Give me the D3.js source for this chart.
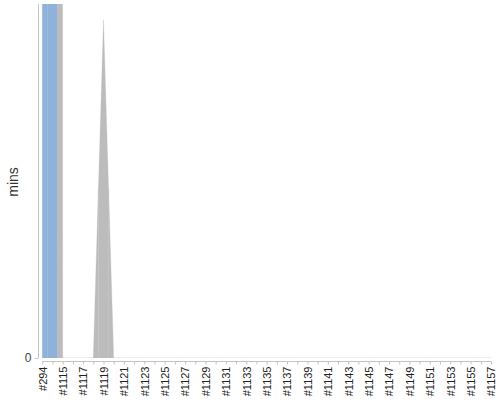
<!DOCTYPE html>
<html>
<head>
<meta charset="utf-8">
<script src="https://cdn.jsdelivr.net/npm/d3@7/dist/d3.min.js"></script>
<style>
  html, body { margin: 0; padding: 0; background: #fff; }
  svg { display: block; }
  text { font-family: "Liberation Sans", Arial, sans-serif; }
</style>
</head>
<body>
<svg id="chart" width="500" height="400"></svg>
<script>
// Build labels (categories)
const builds = ["#294", "#1114", "#1115", "#1116", "#1117", "#1118", "#1119", "#1120",
  "#1121", "#1122", "#1123", "#1124", "#1125", "#1126", "#1127", "#1128", "#1129",
  "#1130", "#1131", "#1132", "#1133", "#1134", "#1135", "#1136", "#1137", "#1138",
  "#1139", "#1140", "#1141", "#1142", "#1143", "#1144", "#1145", "#1146", "#1147",
  "#1148", "#1149", "#1150", "#1151", "#1152", "#1153", "#1154", "#1155", "#1156", "#1157"];
// Build duration (mins)
const durations = [2400, 2400, 0, 0, 0, 0, 21, 0,
  0, 0, 0, 0, 0, 0, 0, 0, 0,
  0, 0, 0, 0, 0, 0, 0, 0, 0,
  0, 0, 0, 0, 0, 0, 0, 0, 0,
  0, 0, 0, 0, 0, 0, 0, 0, 0, 0];
// Build result
const results = ["SUCCESS", "SUCCESS", "ABORTED", "ABORTED", "ABORTED", "ABORTED", "ABORTED", "ABORTED",
  "ABORTED", "ABORTED", "ABORTED", "ABORTED", "ABORTED", "ABORTED", "ABORTED", "ABORTED", "ABORTED",
  "ABORTED", "ABORTED", "ABORTED", "ABORTED", "ABORTED", "ABORTED", "ABORTED", "ABORTED", "ABORTED",
  "ABORTED", "ABORTED", "ABORTED", "ABORTED", "ABORTED", "ABORTED", "ABORTED", "ABORTED", "ABORTED",
  "ABORTED", "ABORTED", "ABORTED", "ABORTED", "ABORTED", "ABORTED", "ABORTED", "ABORTED", "ABORTED", "ABORTED"];
const yTicks = [0];
const yLabel = "mins";
const yMax = 22;

const resultColor = { SUCCESS: "#8EB2D9", ABORTED: "#BCBCBC", FAILURE: "#F25454" };

const svg = d3.select("#chart");
const plot = { left: 41, right: 493, top: 4, bottom: 358 };

const x = d3.scalePoint().domain(builds).range([42.3, 491]);
const y = d3.scaleLinear().domain([0, yMax]).range([plot.bottom, plot.top]);

svg.append("defs").append("clipPath").attr("id", "clip")
  .append("rect")
  .attr("x", plot.left).attr("y", plot.top)
  .attr("width", plot.right - plot.left).attr("height", plot.bottom - plot.top);

// Stacked-area style: each build fills from half-way to its previous neighbour to half-way to its next
const n = builds.length;
const polys = builds.map((b, i) => {
  const xi = x(b), vi = durations[i];
  const pts = [];
  if (i > 0) {
    const xl = (x(builds[i - 1]) + xi) / 2;
    const vl = (durations[i - 1] + vi) / 2;
    pts.push([xl, y(0)], [xl, y(vl)]);
  } else {
    pts.push([xi, y(0)]);
  }
  pts.push([xi, y(vi)]);
  if (i < n - 1) {
    const xr = (xi + x(builds[i + 1])) / 2;
    const vr = (vi + durations[i + 1]) / 2;
    pts.push([xr, y(vr)], [xr, y(0)]);
  } else {
    pts.push([xi, y(0)]);
  }
  return { pts, color: resultColor[results[i]] };
});

svg.append("g").attr("clip-path", "url(#clip)")
  .selectAll("path").data(polys).join("path")
  .attr("d", d => "M" + d.pts.map(p => p.join(",")).join("L") + "Z")
  .attr("fill", d => d.color)
  .attr("stroke", d => d.color)
  .attr("stroke-width", 0.3);

// Y axis
const yAxis = d3.axisLeft(y).tickValues(yTicks).tickSize(4).tickPadding(3).tickFormat(d3.format("d"));
const gy = svg.append("g").attr("transform", "translate(38.5,0)").call(yAxis);
gy.select(".domain").attr("d", `M0,${plot.top}V${plot.bottom}`).attr("stroke", "#c4c4c4");
gy.selectAll(".tick line").attr("stroke", "#c4c4c4");
gy.selectAll(".tick text").attr("fill", "#444").style("font-size", "12px")
  .style("font-family", "'Liberation Sans', Arial, sans-serif");

// X axis
const xAxis = d3.axisBottom(x).tickSize(3).tickPadding(2)
  .tickFormat((d, i) => (i % 2 === 0 ? d : ""));
const gx = svg.append("g").attr("transform", "translate(0,361.5)").call(xAxis);
gx.select(".domain").attr("d", `M${x(builds[0])},0H${x(builds[n - 1])}`).attr("stroke", "#c4c4c4");
gx.selectAll(".tick line").attr("stroke", "#c4c4c4");
gx.selectAll(".tick text")
  .attr("fill", "#222")
  .style("font-size", "11px")
  .style("font-family", "'Liberation Sans', Arial, sans-serif")
  .attr("text-anchor", "end")
  .attr("transform", "rotate(-90)")
  .attr("x", -5)
  .attr("y", 0)
  .attr("dy", "0.35em");

// Y axis title
svg.append("text")
  .attr("transform", `translate(18,182) rotate(-90)`)
  .attr("text-anchor", "middle")
  .attr("fill", "#333")
  .style("font-size", "14px")
  .text(yLabel);
</script>
</body>
</html>
